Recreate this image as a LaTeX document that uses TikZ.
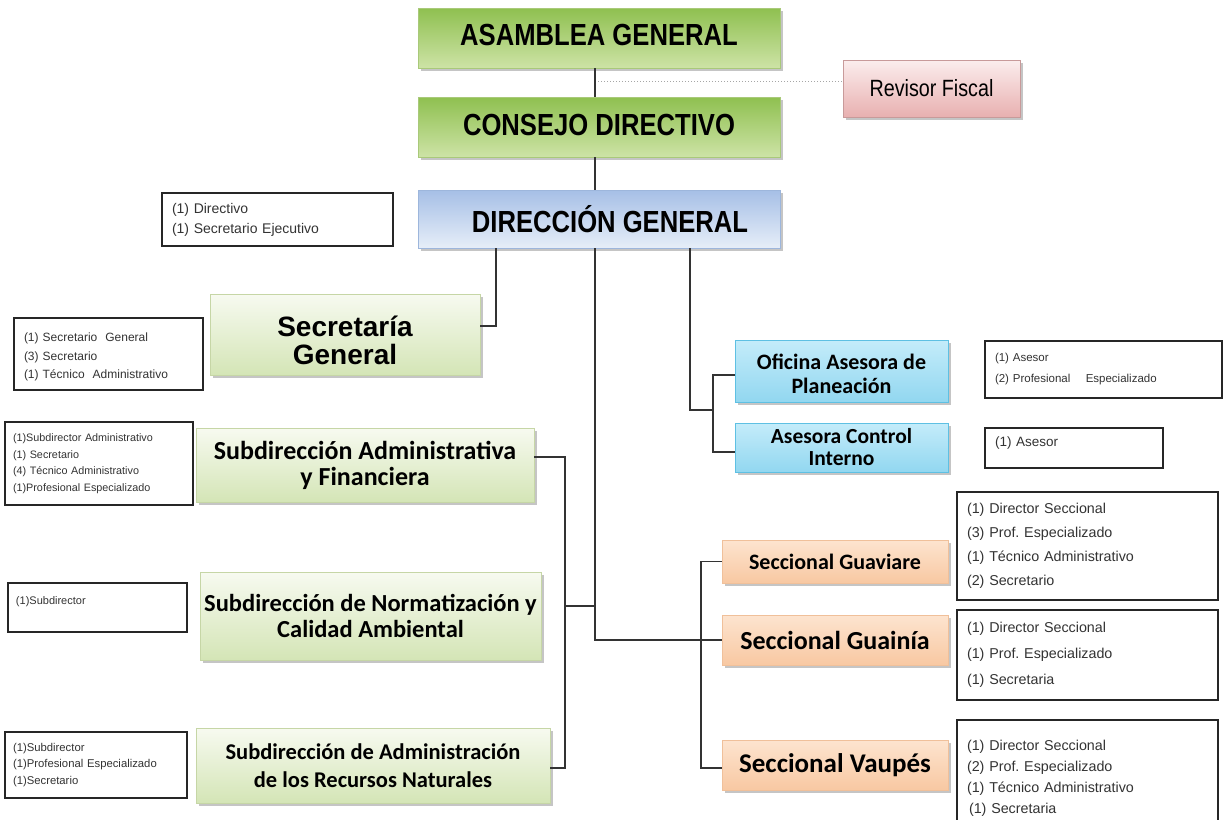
\documentclass[tikz,border=0pt]{standalone}
\usepackage{fontspec}
\setmainfont{Liberation Sans}
\newfontfamily\narrowfont[FakeStretch=0.84]{Liberation Sans}
\newfontfamily\calib{Carlito}
\usetikzlibrary{shadows,calc}
\frenchspacing
\newcommand{\lowertext}[2]{\raisebox{-#1}[\height][\depth]{#2}}
\definecolor{lineC}{HTML}{333333}
\definecolor{gTop}{HTML}{8FC050}
\definecolor{gBot}{HTML}{CDE3A6}
\definecolor{gBorder}{HTML}{A9C97A}
\definecolor{lgTop}{HTML}{F7FAF0}
\definecolor{lgBot}{HTML}{D4E5B6}
\definecolor{lgBorder}{HTML}{C6D6A6}
\definecolor{bTop}{HTML}{A6BFE6}
\definecolor{bBot}{HTML}{E6EEF8}
\definecolor{bBorder}{HTML}{9DB6DC}
\definecolor{cTop}{HTML}{C4ECFA}
\definecolor{cBot}{HTML}{92D7F0}
\definecolor{cBorder}{HTML}{5EC0E3}
\definecolor{pTop}{HTML}{FDE4CF}
\definecolor{pBot}{HTML}{F8C8A2}
\definecolor{pBorder}{HTML}{F0C09A}
\definecolor{rTop}{HTML}{FBEDED}
\definecolor{rBot}{HTML}{E8B0B0}
\definecolor{rBorder}{HTML}{C89A9A}
\tikzset{
  shbox/.style={rectangle, inner sep=2pt, align=center, text=black,
    drop shadow={shadow xshift=2.5pt, shadow yshift=-2.5pt, fill=black!45, opacity=.5}},
  topbox/.style={shbox, top color=gTop, bottom color=gBot, draw=gBorder, line width=0.6pt,
    font=\narrowfont\bfseries\fontsize{30.5}{32}\selectfont},
  dirbox/.style={shbox, top color=bTop, bottom color=bBot, draw=bBorder, line width=0.6pt,
    font=\narrowfont\bfseries\fontsize{30.5}{32}\selectfont},
  subbox/.style={shbox, top color=lgTop, bottom color=lgBot, draw=lgBorder, line width=0.6pt},
  asebox/.style={shbox, top color=cTop, bottom color=cBot, draw=cBorder, line width=0.8pt},
  secbox/.style={shbox, top color=pTop, bottom color=pBot, draw=pBorder, line width=0.6pt},
  revbox/.style={shbox, top color=rTop, bottom color=rBot, draw=rBorder, line width=0.6pt,
    font=\narrowfont\fontsize{23.5}{25}\selectfont},
  staff/.style={rectangle, draw=black!85, line width=1.3pt, fill=white, align=left,
    inner xsep=10pt, text=black!80},
  conn/.style={draw=lineC, line width=1.6pt},
  rfline/.style={draw=black!35, line width=1pt, dotted}
}
\begin{document}
\begin{tikzpicture}[x=1pt,y=-1pt]
\clip (0,0) rectangle (1225,819);
\fill[white] (0,0) rectangle (1225,819);

% top boxes
\node[topbox, minimum width=362pt, minimum height=60pt] (asamblea) at (599,38) {\lowertext{-3pt}{ASAMBLEA GENERAL}};
\node[topbox, minimum width=362pt, minimum height=60pt] (consejo) at (599,127) {\lowertext{-2pt}{CONSEJO DIRECTIVO}};
\node[revbox, minimum width=177pt, minimum height=57pt] (revisor) at (931.5,88.5) {Revisor Fiscal};
\node[dirbox, minimum width=362pt, minimum height=58pt] (direccion) at (599,219) {\hspace*{22pt}DIRECCIÓN GENERAL};
\node[staff, minimum width=231pt, minimum height=53pt, text width=211pt,
  font=\fontsize{14}{20}\selectfont] (dirstaff) at (277.5,219.5)
  {(1) Directivo\\(1) Secretario Ejecutivo};

% left branch
\node[subbox, minimum width=270pt, minimum height=81pt,
  font=\bfseries\fontsize{28}{28}\selectfont] (secgen) at (345,334.5)
  {\lowertext{6pt}{Secretaría}\\\lowertext{6pt}{General}};
\node[staff, minimum width=189pt, minimum height=72pt, text width=169pt,
  font=\fontsize{12}{18.5}\selectfont] (secstaff) at (108.5,354)
  {\lowertext{3pt}{(1) Secretario\ \ General}\\\lowertext{3pt}{(3) Secretario}\\\lowertext{3pt}{(1) Técnico\ \ Administrativo}};

\node[subbox, minimum width=338pt, minimum height=74pt,
  font=\calib\bfseries\fontsize{26}{26}\selectfont] (subadm) at (365,465)
  {Subdirección Administrativa\\y Financiera};
\node[staff, minimum width=188pt, minimum height=83pt, text width=172pt, inner xsep=8pt,
  font=\fontsize{10.8}{16.5}\selectfont] (subadmstaff) at (99,463.5)
  {(1)Subdirector Administrativo\\(1) Secretario\\(4) Técnico Administrativo\\(1)Profesional Especializado};

\node[subbox, minimum width=341pt, minimum height=88pt,
  font=\calib\bfseries\fontsize{24.5}{26}\selectfont] (subnorm) at (370.5,616)
  {Subdirección de Normatización y\\Calidad Ambiental};
\node[staff, minimum width=179pt, minimum height=49pt, text width=163pt, inner xsep=8pt,
  font=\fontsize{11}{14}\selectfont] (subnormstaff) at (97.5,607.5)
  {(1)Subdirector\\\mbox{}};

\node[subbox, minimum width=354pt, minimum height=75pt,
  font=\calib\bfseries\fontsize{22.5}{27.5}\selectfont] (subrec) at (373,765.5)
  {Subdirección de Administración\\de los Recursos Naturales};
\node[staff, minimum width=182pt, minimum height=66pt, text width=166pt, inner xsep=8pt,
  font=\fontsize{11.3}{16.5}\selectfont] (subrecstaff) at (96,765)
  {(1)Subdirector\\(1)Profesional Especializado\\(1)Secretario};

% asesoras
\node[asebox, minimum width=213pt, minimum height=62pt,
  font=\calib\bfseries\fontsize{22}{24}\selectfont] (oficina) at (841.5,371)
  {\lowertext{3pt}{Oficina Asesora\ de}\\\lowertext{3pt}{Planeación}};
\node[staff, minimum width=237pt, minimum height=57pt, text width=217pt,
  font=\fontsize{11.5}{21}\selectfont] (ofstaff) at (1103.5,369.5)
  {(1) Asesor\\(2) Profesional\quad\ Especializado};
\node[asebox, minimum width=213pt, minimum height=49pt,
  font=\calib\bfseries\fontsize{21.5}{22}\selectfont] (control) at (841.5,447.5)
  {Asesora Control\\Interno};
\node[staff, minimum width=178pt, minimum height=40pt, text width=158pt,
  font=\fontsize{13.5}{12}\selectfont] (ctrlstaff) at (1074,448)
  {(1) Asesor\\\mbox{}};

% seccionales
\node[secbox, minimum width=226pt, minimum height=43pt,
  font=\calib\bfseries\fontsize{22}{24}\selectfont] (guaviare) at (835,561.5) {Seccional Guaviare};
\node[staff, minimum width=261pt, minimum height=108pt, text width=241pt,
  font=\fontsize{14.3}{24}\selectfont] (guavstaff) at (1087.5,546)
  {(1) Director Seccional\\(3) Prof. Especializado\\(1) Técnico Administrativo\\(2) Secretario};
\node[secbox, minimum width=226pt, minimum height=50pt,
  font=\calib\bfseries\fontsize{26}{28}\selectfont] (guainia) at (835,640) {Seccional Guainía};
\node[staff, minimum width=261pt, minimum height=90pt, text width=241pt,
  font=\fontsize{14.3}{26}\selectfont] (guainstaff) at (1087.5,655)
  {(1) Director Seccional\\(1) Prof. Especializado\\(1) Secretaria};
\node[secbox, minimum width=226pt, minimum height=50pt,
  font=\calib\bfseries\fontsize{27}{29}\selectfont] (vaupes) at (835,765) {Seccional Vaupés};
\node[staff, minimum width=261pt, minimum height=116pt, text width=241pt,
  font=\fontsize{14.3}{21}\selectfont] (vaupstaff) at (1087.5,778)
  {(1) Director Seccional\\(2) Prof. Especializado\\(1) Técnico Administrativo\\\hspace*{2pt}(1) Secretaria};

% connector coordinates
\coordinate (trunk) at (595,0);
\coordinate (sgx) at (496,0);
\coordinate (asx) at (690,0);
\coordinate (rf) at ($(revisor.west)+(0,-7.5)$);
\coordinate (sgin) at ($(secgen.east)+(0,-8.5)$);
\coordinate (lbus) at (565,0);
\coordinate (lmid) at (0,606);
\coordinate (asturn) at (0,410);
\coordinate (abus) at (713,0);
\coordinate (ofin) at ($(oficina.west)+(0,4)$);
\coordinate (ctin) at ($(control.west)+(0,4.5)$);
\coordinate (sbus) at (701,0);
\coordinate (vpin) at ($(vaupes.west)+(0,3)$);
\coordinate (saIn) at ($(subadm.east)+(0,-8)$);
\coordinate (srIn) at ($(subrec.east)+(0,2.5)$);

\draw[rfline] (trunk |- rf) -- (rf);
\draw[conn] (asamblea.south -| trunk) -- (consejo.north -| trunk);
\draw[conn] (consejo.south -| trunk) -- (direccion.north -| trunk);
\draw[conn] (direccion.south -| sgx) |- (sgin);
\draw[conn] (direccion.south -| trunk) |- (guainia.west);
\draw[conn] (saIn) -| (lbus |- srIn) -- (srIn);
\draw[conn] (lbus |- lmid) -- (trunk |- lmid);
\draw[conn] (direccion.south -| asx) |- (abus |- asturn);
\draw[conn] (ofin) -| (abus |- ctin) -- (ctin);
\draw[conn] (guaviare.west) -| (sbus |- vpin) -- (vpin);
\end{tikzpicture}
\end{document}
